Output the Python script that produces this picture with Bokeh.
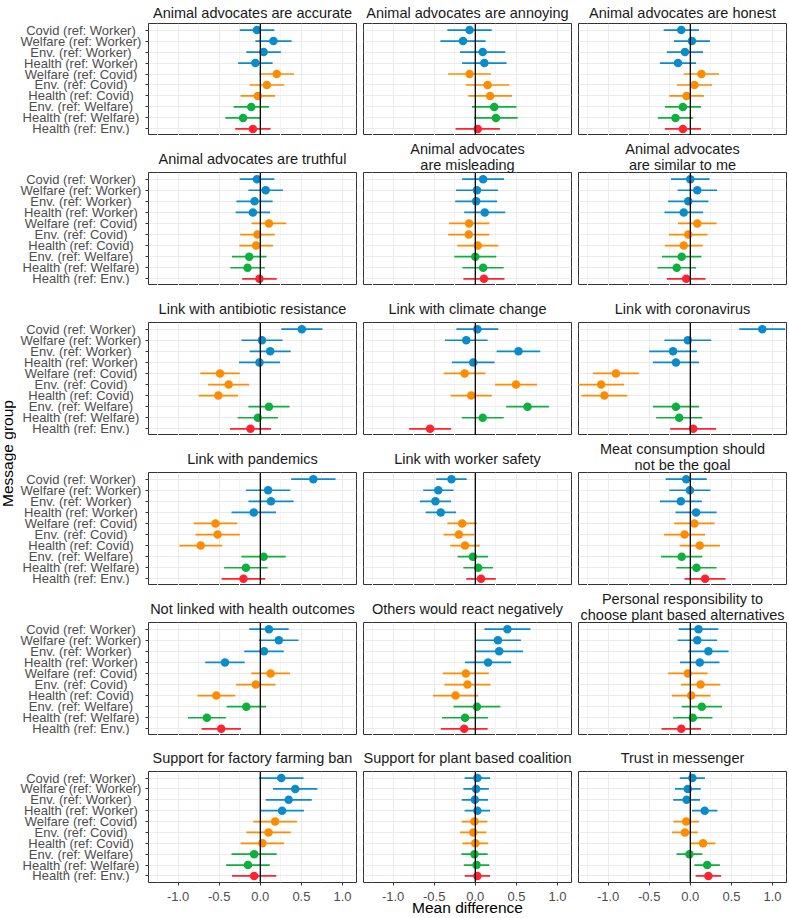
import numpy as np
from bokeh.plotting import figure
from bokeh.layouts import gridplot, row
from bokeh.models import (ColumnDataSource, Range1d, FactorRange, FixedTicker, Grid,
                          LinearAxis, CategoricalAxis, CategoricalTicker, Span, Title)
from bokeh.embed import file_html
from bokeh.resources import INLINE
from bokeh.core.properties import value

# ---------------- data ----------------
groups = ["Covid (ref: Worker)", "Welfare (ref: Worker)", "Env. (ref: Worker)",
          "Health (ref: Worker)", "Welfare (ref: Covid)", "Env. (ref: Covid)",
          "Health (ref: Covid)", "Env. (ref: Welfare)", "Health (ref: Welfare)",
          "Health (ref: Env.)"]
ref_group = ["Worker", "Worker", "Worker", "Worker", "Covid", "Covid", "Covid",
             "Welfare", "Welfare", "Env."]

x_ticks = [-1.0, -0.5, 0.0, 0.5, 1.0]
x_tick_labels = ["-1.0", "-0.5", "0.0", "0.5", "1.0"]
x_minor = [-1.25, -0.75, -0.25, 0.25, 0.75]

titles = ["Animal advocates are accurate", "Animal advocates are annoying",
          "Animal advocates are honest", "Animal advocates are truthful",
          "Animal advocates\nare misleading", "Animal advocates\nare similar to me",
          "Link with antibiotic resistance", "Link with climate change",
          "Link with coronavirus", "Link with pandemics", "Link with worker safety",
          "Meat consumption should\nnot be the goal", "Not linked with health outcomes",
          "Others would react negatively",
          "Personal responsibility to\nchoose plant based alternatives",
          "Support for factory farming ban", "Support for plant based coalition",
          "Trust in messenger"]

accurate_est = [-0.04, 0.16, 0.04, -0.06, 0.20, 0.08, -0.03, -0.11, -0.21, -0.09]
accurate_hw = [0.21, 0.22, 0.21, 0.21, 0.21, 0.21, 0.21, 0.215, 0.215, 0.215]
annoying_est = [-0.07, -0.15, 0.09, 0.11, -0.07, 0.15, 0.18, 0.23, 0.25, 0.03]
annoying_hw = [0.27, 0.275, 0.275, 0.27, 0.26, 0.265, 0.265, 0.27, 0.265, 0.27]
honest_est = [-0.11, 0.02, -0.065, -0.15, 0.135, 0.05, -0.045, -0.09, -0.18, -0.09]
honest_hw = [0.215, 0.22, 0.22, 0.22, 0.215, 0.215, 0.21, 0.22, 0.215, 0.22]
truthful_est = [-0.04, 0.065, -0.07, -0.09, 0.105, -0.035, -0.05, -0.135, -0.155, -0.01]
truthful_hw = [0.21, 0.21, 0.22, 0.21, 0.21, 0.21, 0.205, 0.21, 0.21, 0.21]
misleading_est = [0.095, 0.02, 0.01, 0.115, -0.075, -0.08, 0.03, 0.0, 0.095, 0.105]
misleading_hw = [0.255, 0.255, 0.255, 0.25, 0.245, 0.25, 0.25, 0.255, 0.25, 0.25]
similar_est = [0.0, 0.085, -0.025, -0.08, 0.085, -0.025, -0.08, -0.105, -0.165, -0.05]
similar_hw = [0.235, 0.24, 0.245, 0.235, 0.235, 0.235, 0.23, 0.24, 0.235, 0.235]
antibiotic_est = [0.505, 0.02, 0.12, -0.01, -0.49, -0.385, -0.51, 0.105, -0.03, -0.12]
antibiotic_hw = [0.25, 0.25, 0.25, 0.25, 0.24, 0.25, 0.24, 0.25, 0.245, 0.25]
climate_est = [0.025, -0.11, 0.525, -0.025, -0.13, 0.495, -0.05, 0.635, 0.09, -0.55]
climate_hw = [0.255, 0.26, 0.265, 0.26, 0.255, 0.255, 0.25, 0.26, 0.255, 0.255]
coronavirus_est = [0.875, -0.03, -0.21, -0.175, -0.905, -1.085, -1.045, -0.175, -0.135, 0.035]
coronavirus_hw = [0.28, 0.285, 0.29, 0.28, 0.28, 0.28, 0.28, 0.28, 0.28, 0.28]
pandemics_est = [0.645, 0.095, 0.13, -0.08, -0.545, -0.52, -0.725, 0.04, -0.175, -0.205]
pandemics_hw = [0.27, 0.27, 0.275, 0.27, 0.265, 0.27, 0.26, 0.27, 0.265, 0.265]
worker_est = [-0.29, -0.45, -0.485, -0.42, -0.16, -0.2, -0.125, -0.03, 0.035, 0.07]
worker_hw = [0.185, 0.185, 0.19, 0.185, 0.18, 0.185, 0.18, 0.185, 0.18, 0.18]
meat_est = [-0.05, -0.005, -0.115, 0.07, 0.05, -0.07, 0.115, -0.105, 0.075, 0.18]
meat_hw = [0.25, 0.25, 0.255, 0.25, 0.245, 0.25, 0.245, 0.25, 0.245, 0.25]
health_est = [0.105, 0.225, 0.045, -0.43, 0.125, -0.055, -0.535, -0.17, -0.65, -0.475]
health_hw = [0.24, 0.24, 0.24, 0.24, 0.235, 0.24, 0.23, 0.24, 0.23, 0.24]
others_est = [0.39, 0.275, 0.29, 0.155, -0.115, -0.095, -0.24, 0.02, -0.125, -0.135]
others_hw = [0.28, 0.28, 0.29, 0.28, 0.28, 0.28, 0.275, 0.285, 0.28, 0.285]
personal_est = [0.10, 0.085, 0.22, 0.115, -0.03, 0.125, 0.01, 0.14, 0.03, -0.11]
personal_hw = [0.24, 0.24, 0.245, 0.24, 0.24, 0.24, 0.235, 0.245, 0.24, 0.24]
ban_est = [0.255, 0.425, 0.345, 0.265, 0.18, 0.10, 0.025, -0.075, -0.15, -0.075]
ban_hw = [0.27, 0.27, 0.28, 0.265, 0.265, 0.27, 0.265, 0.275, 0.265, 0.27]
coalition_est = [0.025, 0.01, -0.005, 0.025, -0.01, -0.025, 0.0, -0.01, 0.015, 0.025]
coalition_hw = [0.155, 0.155, 0.16, 0.155, 0.157, 0.16, 0.157, 0.16, 0.155, 0.155]
trust_est = [0.025, -0.03, -0.045, 0.175, -0.05, -0.065, 0.155, -0.01, 0.205, 0.22]
trust_hw = [0.153, 0.157, 0.163, 0.155, 0.155, 0.157, 0.151, 0.157, 0.155, 0.155]

panel_data = [
    (accurate_est, accurate_hw), (annoying_est, annoying_hw), (honest_est, honest_hw),
    (truthful_est, truthful_hw), (misleading_est, misleading_hw), (similar_est, similar_hw),
    (antibiotic_est, antibiotic_hw), (climate_est, climate_hw), (coronavirus_est, coronavirus_hw),
    (pandemics_est, pandemics_hw), (worker_est, worker_hw), (meat_est, meat_hw),
    (health_est, health_hw), (others_est, others_hw), (personal_est, personal_hw),
    (ban_est, ban_hw), (coalition_est, coalition_hw), (trust_est, trust_hw),
]

# ---------------- style ----------------
palette = {"Worker": "#0A8BCB", "Covid": "#FF8C00", "Welfare": "#0CB03C", "Env.": "#FF2230"}
FONT = "Liberation Sans"
row_tops = [22, 37, 37, 37, 37, 36]
FRAME_H = 113
BOTTOM = 34
FRAME_W = 208
col_borders = [(3, 3), (4, 3), (4, 2)]
LABEL_W = 129
MSG_W = 16
TOTAL_H = sum(row_tops) + 6 * FRAME_H + BOTTOM

XR = Range1d(-1.36, 1.17)


def make_title(text, standoff):
    return Title(text=text, align="center", text_font=FONT, text_font_size="14.5px",
                 text_font_style="normal", text_color="#1A1A1A", standoff=standoff)


grid_rows = []
for r in range(6):
    top = row_tops[r]
    bottom = BOTTOM if r == 5 else 0
    h = top + FRAME_H + bottom
    yr = FactorRange(factors=list(reversed(groups)), range_padding=0.02)

    lf = figure(width=LABEL_W, height=h, x_range=Range1d(0, 1), y_range=yr,
                x_axis_type=None, y_axis_type=None, toolbar_location=None,
                output_backend="svg", min_border_left=0, min_border_right=0,
                min_border_top=top, min_border_bottom=bottom, outline_line_color=None)
    lf.xgrid.visible = False
    lf.ygrid.visible = False
    lf.text(x=[0.5] * len(groups), y=groups, text=groups, text_align="center",
            text_baseline="middle", text_font=value(FONT), text_font_size="13px",
            text_color="#4D4D4D")
    row_figs = [lf]

    for c in range(3):
        idx = r * 3 + c
        est, hw = panel_data[idx]
        lb, rb = col_borders[c]
        p = figure(width=lb + FRAME_W + rb, height=h, x_range=XR, y_range=yr,
                   x_axis_type=None, y_axis_type=None, toolbar_location=None,
                   output_backend="svg", title=None, min_border_left=lb, min_border_right=rb,
                   min_border_top=top, min_border_bottom=bottom,
                   outline_line_color="#333333", outline_line_width=1)
        lines = titles[idx].split("\n")
        if len(lines) == 2:
            p.add_layout(make_title(lines[1], -1), "above")
            p.add_layout(make_title(lines[0], -2), "above")
        else:
            p.add_layout(make_title(lines[0], 5 if r == 0 else 12), "above")

        p.add_layout(Grid(dimension=0, ticker=FixedTicker(ticks=x_ticks, minor_ticks=x_minor),
                          grid_line_color="#EBEBEB", grid_line_width=1,
                          minor_grid_line_color="#F4F4F4", minor_grid_line_width=1))
        p.add_layout(Grid(dimension=1, ticker=CategoricalTicker(),
                          grid_line_color="#EBEBEB", grid_line_width=1))

        src = ColumnDataSource(dict(
            g=groups, est=est,
            lo=[e - w for e, w in zip(est, hw)],
            hi=[e + w for e, w in zip(est, hw)],
            color=[palette[k] for k in ref_group]))
        p.segment(x0="lo", y0="g", x1="hi", y1="g", line_color="color",
                  line_width=1.7, source=src)
        p.scatter(x="est", y="g", size=8.5, fill_color="color", line_color=None, source=src)
        p.add_layout(Span(location=0, dimension="height", line_color="black", line_width=1.3))

        if c == 0:
            yax = CategoricalAxis(major_tick_out=3, major_tick_in=0,
                                  major_tick_line_color="#333333", axis_line_color=None,
                                  minor_tick_line_color=None, major_label_standoff=0,
                                  major_label_text_color=None)
            p.add_layout(yax, "left")
        if r == 5:
            xax = LinearAxis(ticker=FixedTicker(ticks=x_ticks),
                             major_label_overrides=dict(zip(x_ticks, x_tick_labels)),
                             major_tick_out=3, major_tick_in=0, axis_line_color=None,
                             major_tick_line_color="#333333", minor_tick_line_color=None,
                             major_label_text_font=FONT, major_label_text_font_size="13px",
                             major_label_text_color="#4D4D4D", major_label_standoff=6)
            if c == 1:
                xax.axis_label = "Mean difference"
                xax.axis_label_text_font = FONT
                xax.axis_label_text_font_size = "15.5px"
                xax.axis_label_text_font_style = "normal"
                xax.axis_label_text_color = "#000000"
                xax.axis_label_standoff = -5
            p.add_layout(xax, "below")
        row_figs.append(p)
    grid_rows.append(row_figs)

grid = gridplot(grid_rows, toolbar_location=None)

msg = figure(width=MSG_W, height=TOTAL_H, x_range=Range1d(0, MSG_W), y_range=Range1d(0, TOTAL_H),
             x_axis_type=None, y_axis_type=None, toolbar_location=None, output_backend="svg",
             min_border=0, outline_line_color=None)
msg.xgrid.visible = False
msg.ygrid.visible = False
msg.text(x=[7], y=[TOTAL_H - 453], text=["Message group"], angle=np.pi / 2,
         text_align="center", text_baseline="middle", text_font=value(FONT),
         text_font_size="15.5px", text_color="#000000")

layout = row(msg, grid)

open("out.html", "w").write(file_html(layout, INLINE))
